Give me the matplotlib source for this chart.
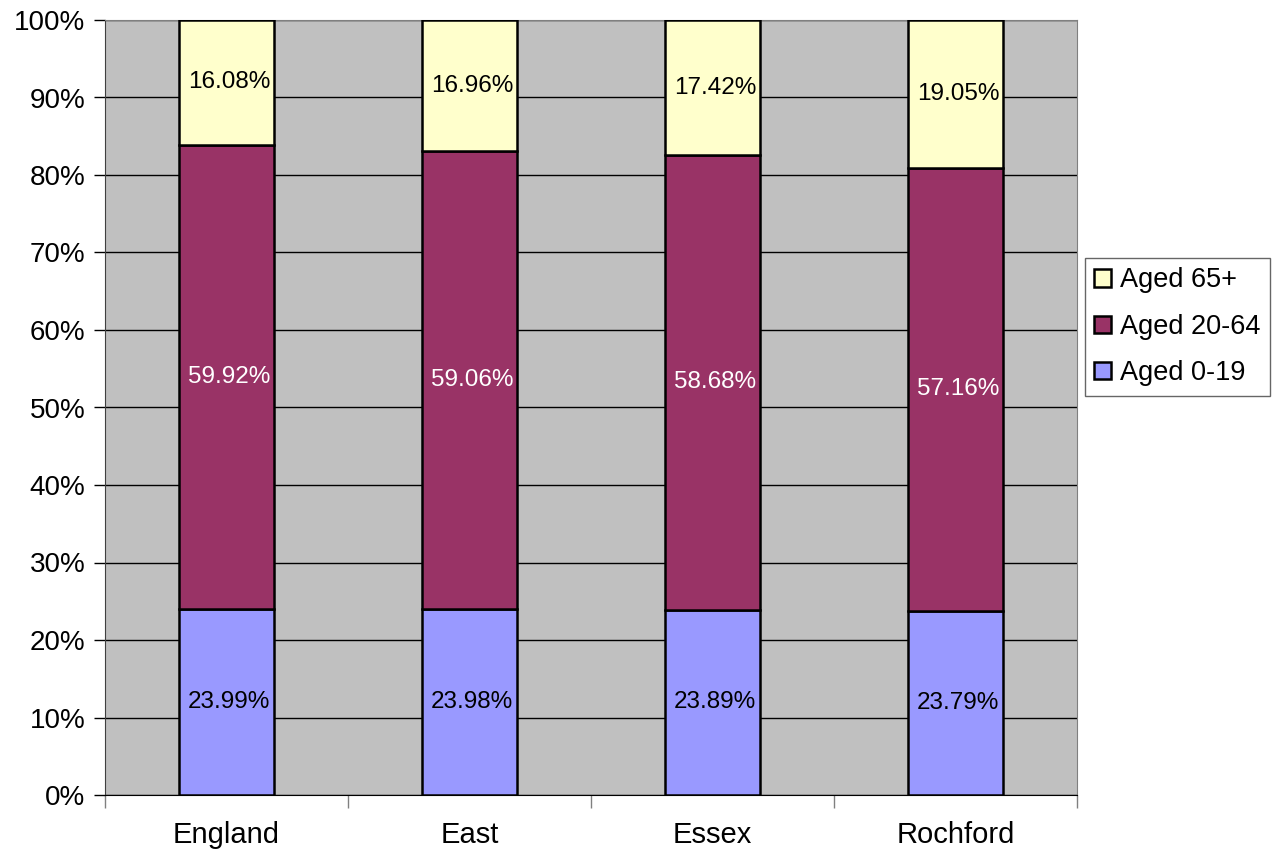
import numpy as np
import matplotlib.pyplot as plt
from matplotlib.ticker import FixedLocator, PercentFormatter

plt.rcParams['font.family'] = ['Liberation Sans', 'DejaVu Sans']

areas = ["England", "East", "Essex", "Rochford"]
aged_0_19 = [23.99, 23.98, 23.89, 23.79]
aged_20_64 = [59.92, 59.06, 58.68, 57.16]
aged_65_plus = [16.08, 16.96, 17.42, 19.05]

series = [
    ("Aged 0-19", aged_0_19, "#9999FF", "black"),
    ("Aged 20-64", aged_20_64, "#993366", "white"),
    ("Aged 65+", aged_65_plus, "#FFFFCC", "black"),
]

fig = plt.figure(figsize=(12.79, 8.55), dpi=100)
ax = fig.add_axes([105 / 1279, 1 - 795 / 855, 972 / 1279, 775 / 855])
ax.set_facecolor("#C0C0C0")

x = np.arange(len(areas))
bottom = np.zeros(len(areas))
handles = []
for name, vals, color, txtcolor in series:
    vals = np.array(vals)
    bars = ax.bar(x, vals, width=0.395, bottom=bottom, color=color,
                  edgecolor="black", linewidth=1.8, label=name, zorder=3)
    for xi, b, v in zip(x, bottom, vals):
        ax.text(xi + 0.01, b + v / 2, f"{v:.2f}%", ha="center", va="center",
                fontsize=17.5, color=txtcolor, zorder=4)
    bottom += vals
    handles.append(bars)

ax.set_xlim(-0.5, len(areas) - 0.5)
ax.set_ylim(0, 100)
ax.yaxis.set_major_locator(FixedLocator(np.arange(0, 101, 10)))
ax.yaxis.set_major_formatter(PercentFormatter(decimals=0))
ax.grid(axis="y", color="black", linewidth=1, zorder=0)
ax.set_axisbelow(True)

ax.set_xticks(x)
ax.set_xticklabels(areas)
ax.tick_params(axis="x", which="major", length=0, pad=19, labelsize=21)
ax.set_xticks(np.arange(-0.5, len(areas), 1.0), minor=True)
ax.tick_params(axis="x", which="minor", length=9, width=1, color="#808080")
ax.tick_params(axis="y", length=8, width=1, labelsize=20, pad=6)

for side in ["top", "right"]:
    ax.spines[side].set_color("#808080")
ax.spines["left"].set_color("#404040")
ax.spines["bottom"].set_color("black")

leg = fig.legend(handles[::-1], [s[0] for s in series][::-1],
                 loc="upper left", bbox_to_anchor=(1085 / 1279, 1 - 258 / 855),
                 fontsize=19.5, frameon=True, fancybox=False, handlelength=0.6,
                 handleheight=0.6, handletextpad=0.35, labelspacing=0.75,
                 borderpad=0.35, borderaxespad=0)
leg.get_frame().set_edgecolor("#404040")
leg.get_frame().set_linewidth(1)

fig.savefig("out.png", dpi=100)
